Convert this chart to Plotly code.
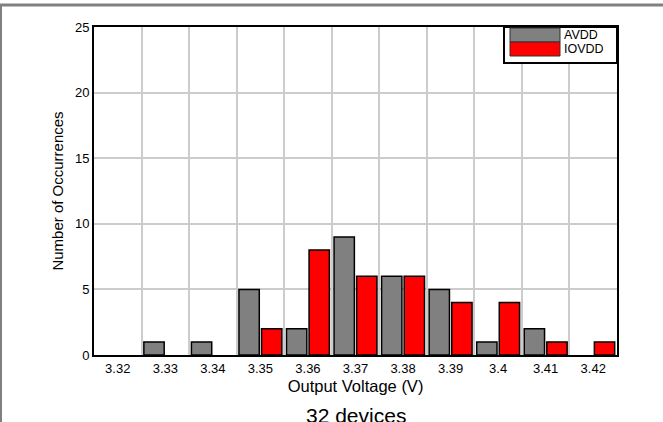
import plotly.graph_objects as go

categories = ["3.32", "3.33", "3.34", "3.35", "3.36", "3.37", "3.38", "3.39", "3.4", "3.41", "3.42"]
avdd = [0, 1, 1, 5, 2, 9, 6, 5, 1, 2, 0]
iovdd = [0, 0, 0, 2, 8, 6, 6, 4, 4, 1, 1]
series_names = ["AVDD", "IOVDD"]
series_colors = ["#808080", "#ff0000"]

L, R, T, B = 94, 46, 27, 67
W, H = 663, 422
pw, ph = W - L - R, H - T - B

def px(x):
    return (x - L) / pw

def py(y):
    return (H - B - y) / ph

fig = go.Figure()
for name, vals, col in zip(series_names, [avdd, iovdd], series_colors):
    fig.add_trace(go.Bar(x=categories, y=[v if v else None for v in vals], name=name,
                         marker=dict(color=col, line=dict(color="black", width=1.5))))

font = "Liberation Sans, Arial, sans-serif"
fig.update_layout(
    width=W, height=H,
    margin=dict(l=L, r=R, t=T, b=B),
    paper_bgcolor="white", plot_bgcolor="white",
    barmode="group", bargap=0.05, bargroupgap=0.1,
    showlegend=False,
    font=dict(family=font, color="black", size=13),
    xaxis=dict(type="category", tickson="boundaries", showgrid=True, gridcolor="#cccccc",
               gridwidth=1.5, showline=True, linecolor="black", linewidth=2, mirror=True,
               ticks="", range=[-0.5, 10.5],
               title=dict(text="Output Voltage (V)", font=dict(size=16.5), standoff=6)),
    yaxis=dict(range=[0, 25], dtick=5, showgrid=True, gridcolor="#cccccc", gridwidth=1.5,
               showline=True, linecolor="black", linewidth=2, mirror=True, ticks="",
               zeroline=False,
               title=dict(text="Number of Occurrences", font=dict(size=15), standoff=8)),
)

shapes = []
# outer frame
shapes.append(dict(type="line", xref="paper", yref="paper", x0=px(0), x1=px(W), y0=py(5), y1=py(5),
                   line=dict(color="#808080", width=3)))
shapes.append(dict(type="line", xref="paper", yref="paper", x0=px(1), x1=px(1), y0=py(5), y1=py(H),
                   line=dict(color="#808080", width=2)))
# legend box
shapes.append(dict(type="rect", xref="paper", yref="paper", x0=px(504), x1=px(617), y0=py(63), y1=py(27),
                   fillcolor="white", line=dict(color="black", width=2), layer="above"))
legend_rows = [(28, 42), (42, 56)]
for (y0, y1), col, name in zip(legend_rows, series_colors, series_names):
    shapes.append(dict(type="rect", xref="paper", yref="paper", x0=px(510), x1=px(560),
                       y0=py(y1), y1=py(y0), fillcolor=col,
                       line=dict(color="#333333", width=1), layer="above"))
    fig.add_annotation(xref="paper", yref="paper", x=px(563), y=py((y0 + y1) / 2),
                       text=name, showarrow=False, xanchor="left", yanchor="middle",
                       height=12, borderpad=0,
                       font=dict(size=12.5, family=font))
fig.update_layout(shapes=shapes)

fig.add_annotation(xref="paper", yref="paper", x=0.5, y=py(415), text="32 devices",
                   showarrow=False, xanchor="center", yanchor="middle",
                   font=dict(size=21, family=font))

fig.write_html("out.html", config={"displayModeBar": False},
               post_script="document.body.style.margin='0';")
